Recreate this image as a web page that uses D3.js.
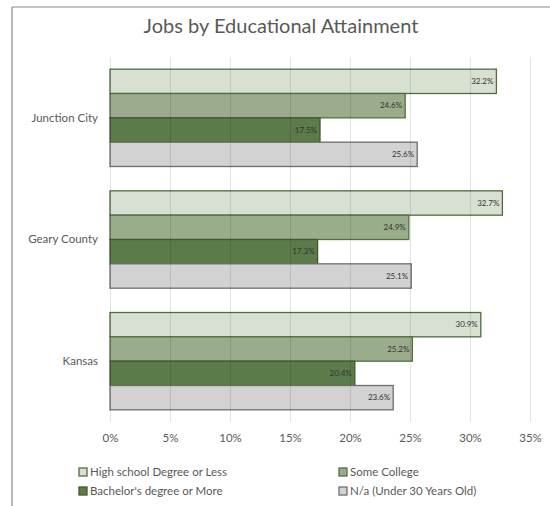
<!DOCTYPE html>
<html>
<head>
<meta charset="utf-8">
<script src="https://cdn.jsdelivr.net/npm/d3@7"></script>
<style>
  html, body { margin: 0; padding: 0; background: #fff; }
  svg { display: block; }
  text { font-family: Lato, "Open Sans", sans-serif; }
</style>
</head>
<body>
<svg id="chart" width="550" height="506"></svg>
<script>
// Share of jobs by educational attainment, per area
const categories = ["Junction City", "Geary County", "Kansas"];
const seriesNames = [
  "High school Degree or Less",
  "Some College",
  "Bachelor's degree or More",
  "N/a (Under 30 Years Old)"
];
const highSchool = [32.2, 32.7, 30.9];
const someCollege = [24.6, 24.9, 25.2];
const bachelors = [17.5, 17.3, 20.4];
const notApplicable = [25.6, 25.1, 23.6];
const tickValues = [0, 5, 10, 15, 20, 25, 30, 35];

const seriesValues = [highSchool, someCollege, bachelors, notApplicable];
const fills = ["#d8e0d2", "#9bac8c", "#5c7b4a", "#d2d2d2"];
const strokes = ["#4f6d3e", "#55703f", "#3f5a30", "#6e6e6e"];

const svg = d3.select("#chart");

// frame lines (left and top edges)
svg.append("line").attr("x1", 12).attr("x2", 12).attr("y1", 7).attr("y2", 506)
  .attr("stroke", "#8a8a8a").attr("stroke-width", 1.2);
svg.append("line").attr("x1", 12).attr("x2", 550).attr("y1", 7).attr("y2", 7)
  .attr("stroke", "#8a8a8a").attr("stroke-width", 1.2);

svg.append("text")
  .attr("x", 281).attr("y", 33)
  .attr("text-anchor", "middle")
  .attr("font-size", 20)
  .attr("fill", "#595959")
  .text("Jobs by Educational Attainment");

const x = d3.scaleLinear().domain([0, 35]).range([110, 530]);
const y0 = d3.scaleBand().domain(categories).range([57, 422]).paddingInner(0.2).paddingOuter(0.1);
const y1 = d3.scaleBand().domain(d3.range(seriesNames.length)).range([0, y0.bandwidth()]);

const rows = [];
categories.forEach((c, ci) => {
  seriesValues.forEach((vals, si) => rows.push({ cat: c, s: si, v: vals[ci] }));
});

// bars
svg.append("g").selectAll("rect").data(rows).join("rect")
  .attr("x", x(0))
  .attr("y", d => y0(d.cat) + y1(d.s))
  .attr("width", d => x(d.v) - x(0))
  .attr("height", y1.bandwidth())
  .attr("fill", d => fills[d.s])
  .attr("stroke", d => strokes[d.s])
  .attr("stroke-width", 1.3);

// vertical gridlines, drawn faintly across the bars
const xAxis = d3.axisBottom(x).tickValues(tickValues).tickSize(-(422 - 57)).tickFormat(d => d + "%");
const gx = svg.append("g").attr("transform", "translate(0,422)").call(xAxis);
gx.select(".domain").remove();
gx.selectAll(".tick line").attr("stroke", "#000").attr("stroke-opacity", 0.11).attr("stroke-width", 1);
gx.selectAll(".tick text")
  .attr("y", 12).attr("dy", "0.71em")
  .attr("font-size", 11.5).attr("fill", "#595959")
  .attr("font-family", "Lato, 'Open Sans', sans-serif");

// value labels at the bar ends
svg.append("g").selectAll("text").data(rows).join("text")
  .attr("x", d => x(d.v) - 3)
  .attr("y", d => y0(d.cat) + y1(d.s) + y1.bandwidth() / 2)
  .attr("dy", "0.35em")
  .attr("text-anchor", "end")
  .attr("font-size", 8)
  .attr("fill", "#333")
  .text(d => d.v.toFixed(1) + "%");

// category axis labels
const yAxis = d3.axisLeft(y0).tickSize(0).tickPadding(12);
const gy = svg.append("g").attr("transform", "translate(110,0)").call(yAxis);
gy.select(".domain").remove();
gy.selectAll(".tick text")
  .attr("font-size", 11.5).attr("fill", "#595959")
  .attr("font-family", "Lato, 'Open Sans', sans-serif");

// legend
const legendPos = [
  { x: 79, y: 472 }, { x: 339, y: 472 },
  { x: 79, y: 491 }, { x: 339, y: 491 }
];
const legend = svg.append("g").selectAll("g").data(seriesNames).join("g")
  .attr("transform", (d, i) => `translate(${legendPos[i].x},${legendPos[i].y})`);
legend.append("rect")
  .attr("x", 0).attr("y", -4).attr("width", 8).attr("height", 8)
  .attr("fill", (d, i) => fills[i])
  .attr("stroke", (d, i) => strokes[i]).attr("stroke-width", 1.3);
legend.append("text")
  .attr("x", 11).attr("dy", "0.35em")
  .attr("font-size", 11.5).attr("fill", "#595959")
  .text(d => d);
</script>
</body>
</html>
